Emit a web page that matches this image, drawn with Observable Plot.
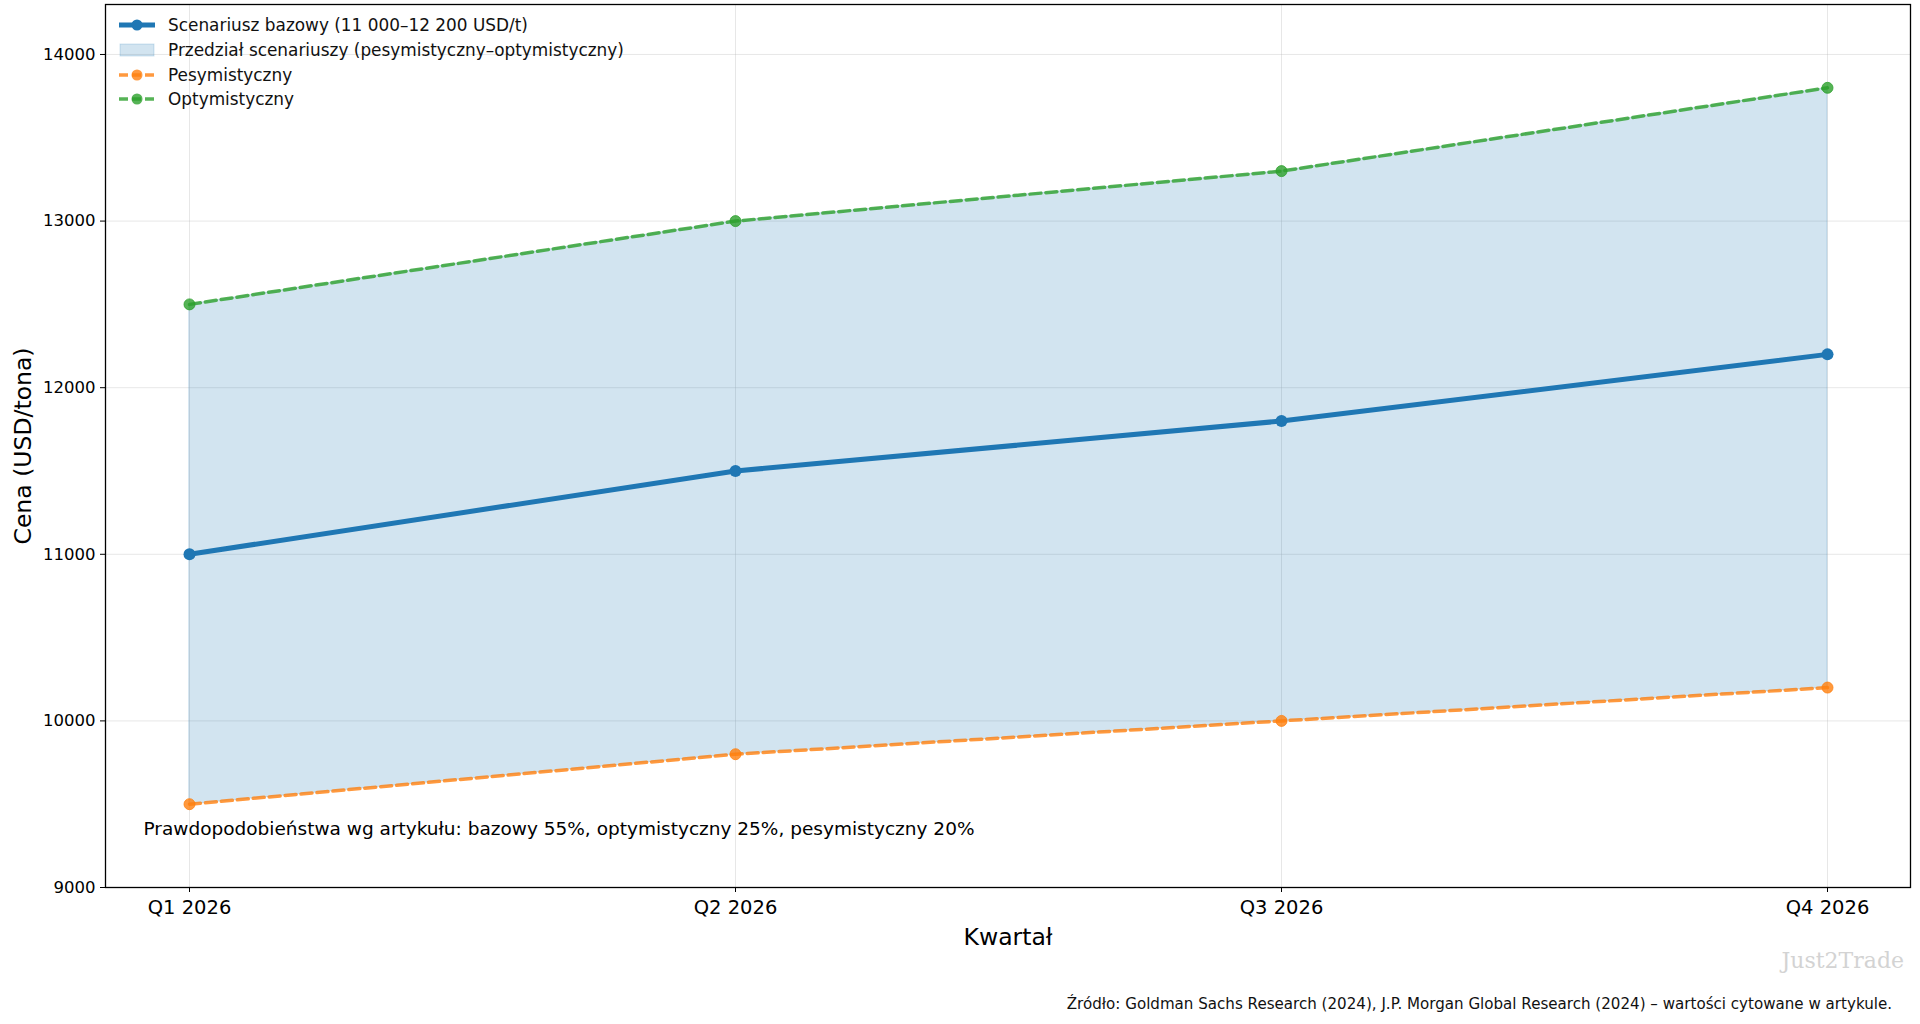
<!DOCTYPE html>
<html><head><meta charset="utf-8">
<script src="https://cdn.jsdelivr.net/npm/d3@7"></script>
<script src="https://cdn.jsdelivr.net/npm/@observablehq/plot@0.6"></script>
<style>
body{margin:0;background:#fff;font-family:"DejaVu Sans",sans-serif;}
#wrap{position:relative;width:1920px;height:1024px;overflow:hidden;}
#legend{position:absolute;left:118px;top:13px;font-size:16.9px;color:#111;}
#legend .row{display:flex;align-items:center;height:24.7px;}
#legend svg{margin-right:12px;}
#source{position:absolute;right:28px;top:995px;font-size:15.1px;color:#111;}
#wm{position:absolute;right:16px;top:948px;font-family:"DejaVu Serif",serif;font-size:22px;color:#d3d3d3;}
</style></head>
<body><div id="wrap"><div id="chart"></div>
<div id="legend"></div>
<div id="wm">Just2Trade</div>
<div id="source">Źródło: Goldman Sachs Research (2024), J.P. Morgan Global Research (2024) – wartości cytowane w artykule.</div>
</div>
<script>
const quarters = ["Q1 2026","Q2 2026","Q3 2026","Q4 2026"];
const base = [11000, 11500, 11800, 12200];
const pess = [9500, 9800, 10000, 10200];
const opt = [12500, 13000, 13300, 13800];
const yTicks = [9000, 10000, 11000, 12000, 13000, 14000];
const legendLabels = ["Scenariusz bazowy (11 000–12 200 USD/t)","Przedział scenariuszy (pesymistyczny–optymistyczny)","Pesymistyczny","Optymistyczny"];
const note = "Prawdopodobieństwa wg artykułu: bazowy 55%, optymistyczny 25%, pesymistyczny 20%";

const data = quarters.map((q,i)=>({q, base: base[i], pess: pess[i], opt: opt[i]}));
const cBase="#1f77b4", cPess="#ff7f0e", cOpt="#2ca02c";

const chart = Plot.plot({
  width:1920, height:960,
  marginTop:4, marginLeft:105, marginRight:10, marginBottom:73,
  style:{fontFamily:"DejaVu Sans, sans-serif", color:"#000", background:"#fff"},
  x:{type:"point", domain:quarters, padding:0.15},
  y:{domain:[9000,14300]},
  marks:[
    Plot.gridY(yTicks,{stroke:"#b0b0b0", strokeOpacity:0.3, strokeWidth:1}),
    Plot.gridX(quarters,{stroke:"#b0b0b0", strokeOpacity:0.3, strokeWidth:1}),
    Plot.areaY(data,{x:"q", y1:"pess", y2:"opt", fill:cBase, fillOpacity:0.2, stroke:cBase, strokeOpacity:0.2, strokeWidth:1}),
    Plot.line(data,{x:"q", y:"pess", stroke:cPess, strokeOpacity:0.8, strokeWidth:3.5, strokeDasharray:"11,5"}),
    Plot.dot(data,{x:"q", y:"pess", r:5.5, fill:cPess, fillOpacity:0.8, stroke:cPess, strokeOpacity:0.8, strokeWidth:1}),
    Plot.line(data,{x:"q", y:"opt", stroke:cOpt, strokeOpacity:0.8, strokeWidth:3.5, strokeDasharray:"11,5"}),
    Plot.dot(data,{x:"q", y:"opt", r:5.5, fill:cOpt, fillOpacity:0.8, stroke:cOpt, strokeOpacity:0.8, strokeWidth:1}),
    Plot.line(data,{x:"q", y:"base", stroke:cBase, strokeWidth:5}),
    Plot.dot(data,{x:"q", y:"base", r:6, fill:cBase, stroke:"none"}),
    Plot.text([note],{frameAnchor:"bottom-left", text:d=>d, dx:38, dy:-58, textAnchor:"start", lineAnchor:"middle", fontSize:18.5, fill:"#000"}),
    Plot.axisY(yTicks,{tickSize:5, tickPadding:5, fontSize:16.5, label:"Cena (USD/tona)", labelAnchor:"center", labelArrow:"none", labelOffset:91, tickFormat:d=>String(d)}),
    Plot.axisX(quarters,{tickSize:5, tickPadding:8, fontSize:19.5, label:"Kwartał", labelAnchor:"center", labelArrow:"none", labelOffset:57}),
    Plot.frame({stroke:"#000", strokeWidth:1.3})
  ]
});
document.getElementById("chart").appendChild(chart);
chart.querySelectorAll("g[aria-label='y-axis label'] text, g[aria-label='x-axis label'] text").forEach(t=>t.setAttribute("font-size","23.5"));

const leg = document.getElementById("legend");
const specs = [
  {c:cBase, w:5, dash:null, op:1, patch:false},
  {c:cBase, patch:true},
  {c:cPess, w:3.5, dash:"9,4", op:0.8, patch:false},
  {c:cOpt, w:3.5, dash:"9,4", op:0.8, patch:false}
];
specs.forEach((s,i)=>{
  const row=document.createElement("div"); row.className="row";
  let svg;
  if(s.patch){
    svg=`<svg width="38" height="20"><rect x="2" y="4" width="34" height="12" fill="${s.c}" fill-opacity="0.2" stroke="${s.c}" stroke-opacity="0.2"/></svg>`;
  } else {
    svg=`<svg width="38" height="20"><line x1="1" x2="37" y1="10" y2="10" stroke="${s.c}" stroke-width="${s.w}" stroke-opacity="${s.op}" ${s.dash?`stroke-dasharray="${s.dash}"`:""}/><circle cx="19" cy="10" r="5.5" fill="${s.c}" fill-opacity="${s.op}"/></svg>`;
  }
  row.innerHTML=svg+`<span>${legendLabels[i]}</span>`;
  leg.appendChild(row);
});
</script>
</body></html>
